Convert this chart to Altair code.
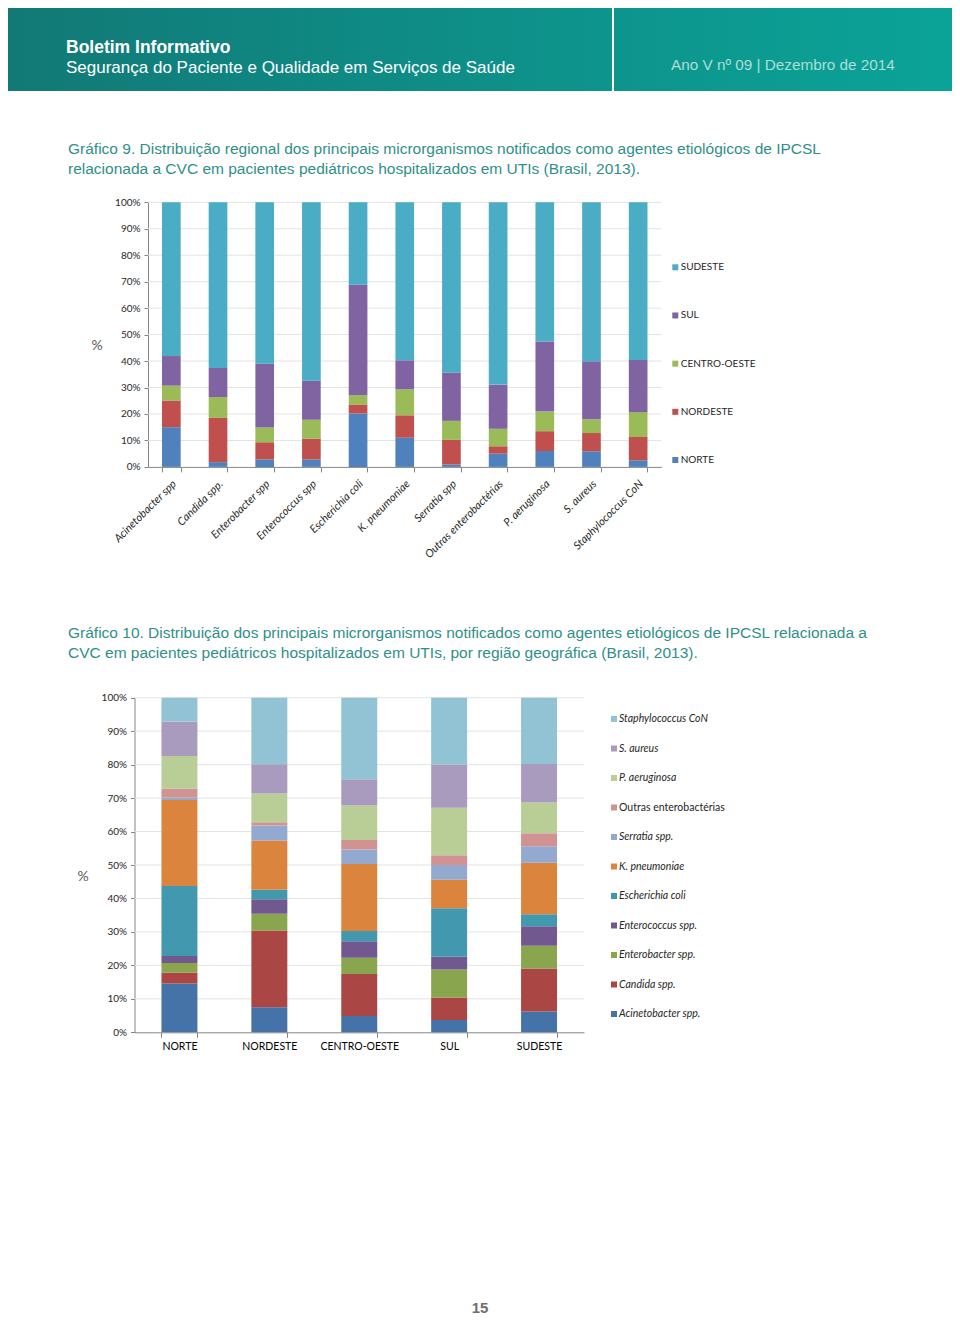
import altair as alt
import pandas as pd

# ---------------- data ----------------
regions = ["NORTE", "NORDESTE", "CENTRO-OESTE", "SUL", "SUDESTE"]
region_colors = ["#4f81bd", "#c0504d", "#9bbb59", "#8064a2", "#4bacc6"]

orgs1 = ["Acinetobacter spp", "Candida spp.", "Enterobacter spp", "Enterococcus spp",
         "Escherichia coli", "K. pneumoniae", "Serratia spp", "Outras enterobactérias",
         "P. aeruginosa", "S. aureus", "Staphylococcus CoN"]
norte1 = [15.0, 1.8, 2.8, 2.8, 20.2, 11.0, 0.9, 5.0, 6.0, 5.9, 2.5]
nordeste1 = [10.1, 16.7, 6.5, 7.8, 3.4, 8.5, 9.3, 2.8, 7.5, 6.9, 8.8]
centro1 = [5.6, 7.9, 5.6, 7.2, 3.5, 9.8, 7.2, 6.6, 7.4, 5.2, 9.4]
sul1 = [11.2, 11.0, 24.1, 14.8, 41.7, 11.0, 18.2, 16.7, 26.5, 21.9, 19.7]
sudeste1 = [58.1, 62.6, 61.0, 67.4, 31.2, 59.7, 64.4, 68.9, 52.6, 60.1, 59.6]

orgs2 = ["Acinetobacter spp.", "Candida spp.", "Enterobacter spp.", "Enterococcus spp.",
         "Escherichia coli", "K. pneumoniae", "Serratia spp.", "Outras enterobactérias",
         "P. aeruginosa", "S. aureus", "Staphylococcus CoN"]
org_colors = ["#4572a7", "#aa4643", "#89a54e", "#71588f", "#4198af", "#db843d",
              "#93a9cf", "#d19392", "#b9cd96", "#a99bbd", "#92c3d4"]
norte2 = [14.6, 3.3, 2.8, 2.1, 20.9, 25.7, 0.8, 2.6, 9.8, 10.3, 7.1]
nordeste2 = [7.5, 22.9, 5.0, 4.4, 2.8, 14.7, 4.5, 1.0, 8.6, 8.7, 19.9]
centro2 = [4.9, 12.5, 4.9, 4.9, 3.1, 20.0, 4.3, 2.9, 10.3, 7.8, 24.4]
sul2 = [3.7, 6.7, 8.4, 3.8, 14.5, 8.5, 4.4, 2.9, 14.2, 12.9, 20.0]
sudeste2 = [6.2, 12.9, 6.8, 5.8, 3.6, 15.4, 4.9, 3.9, 9.2, 11.5, 19.8]

ytick_values = [0, 0.1, 0.2, 0.3, 0.4, 0.5, 0.6, 0.7, 0.8, 0.9, 1.0]

header_title = "Boletim Informativo"
header_sub = "Segurança do Paciente e Qualidade em Serviços de Saúde"
header_right = "Ano V nº 09 | Dezembro de 2014"
caption1 = ["Gráfico 9. Distribuição regional dos principais microrganismos notificados como agentes etiológicos de IPCSL",
            "relacionada a CVC em pacientes pediátricos hospitalizados em UTIs (Brasil, 2013)."]
caption2 = ["Gráfico 10. Distribuição dos principais microrganismos notificados como agentes etiológicos de IPCSL relacionada a",
            "CVC em pacientes pediátricos hospitalizados em UTIs, por  região geográfica (Brasil, 2013)."]
page_number = "15"

# ---------------- tables ----------------
series1 = [norte1, nordeste1, centro1, sul1, sudeste1]
rows1 = []
for ri, (reg, vals) in enumerate(zip(regions, series1)):
    for org, v in zip(orgs1, vals):
        rows1.append({"org": org, "region": reg, "value": v, "rank": ri})
df1 = pd.DataFrame(rows1)

series2 = [norte2, nordeste2, centro2, sul2, sudeste2]
rows2 = []
for reg, vals in zip(regions, series2):
    for oi, (org, v) in enumerate(zip(orgs2, vals)):
        rows2.append({"org": org, "region": reg, "value": v, "rank": oi})
df2 = pd.DataFrame(rows2)

# ---------------- canvas (page px minus the 8px body margin) ----------------
W, H = 944, 1308
AX = "#868686"
LBL = "#262626"
FONT = "Lato"
HFONT = "Liberation Sans"
CAP = "#2f8f89"

one = pd.DataFrame({"d": [0]})


def text(x, y, s, size, color, weight="normal", align="left", font=HFONT, style="normal"):
    return alt.Chart(pd.DataFrame({"t": [s]})).mark_text(
        align=align, baseline="middle", fontSize=size, color=color,
        fontWeight=weight, font=font, fontStyle=style
    ).encode(x=alt.value(x), y=alt.value(y), text="t:N")


# ---------------- header ----------------
hdr = alt.Chart(one).mark_rect(
    color=alt.LinearGradient(
        gradient="linear",
        stops=[alt.GradientStop(color="#127976", offset=0),
               alt.GradientStop(color="#0e8f88", offset=0.5),
               alt.GradientStop(color="#0ba398", offset=1)],
        x1=0, x2=1, y1=0, y2=0)
).encode(x=alt.value(0), x2=alt.value(W), y=alt.value(0), y2=alt.value(83))
vline = alt.Chart(one).mark_rule(color="white", strokeWidth=2).encode(
    x=alt.value(605), y=alt.value(0), y2=alt.value(83))
t_title = text(58, 39.5, header_title, 17.5, "white", weight="bold")
t_sub = text(58, 60, header_sub, 17, "white")
t_right = text(663, 57, header_right, 15.3, "#addfd8")

cap1a = text(60, 141, caption1[0], 15.5, CAP)
cap1b = text(60, 161, caption1[1], 15.5, CAP)
cap2a = text(60, 625, caption2[0], 15.5, CAP)
cap2b = text(60, 645, caption2[1], 15.5, CAP)
pct1 = text(89, 338, "%", 14, "#595959", align="center", font=FONT)
pct2 = text(75, 869, "%", 14, "#595959", align="center", font=FONT)
pnum = text(472, 1300, page_number, 15, "#6d6e70", weight="bold", align="center")

# ---------------- chart 1 ----------------
y0_1, y1_1 = 458.9, 194.3
xl1, xr1 = 140, 653.5
xs1 = alt.Scale(domain=orgs1, range=[xl1, xr1], paddingInner=0.6, paddingOuter=0.3)
ys1 = alt.Scale(domain=[0, 1], range=[y0_1, y1_1])
yaxis1 = alt.Axis(orient="left", offset=-xl1, values=ytick_values, format=".0%",
                  labelFont=FONT, labelFontSize=10, labelColor=LBL, domainColor=AX,
                  tickColor=AX, tickSize=4, labelPadding=4, grid=False, title=None)
grid1 = alt.Chart(pd.DataFrame({"v": ytick_values[1:]})).mark_rule(
    color="#e3e3e3", strokeWidth=1
).encode(y=alt.Y("v:Q", scale=ys1, axis=yaxis1, title=None),
         x=alt.value(xl1), x2=alt.value(xr1))
bars1 = alt.Chart(df1).mark_bar().encode(
    x=alt.X("org:N", scale=xs1, sort=orgs1, title=None,
            axis=alt.Axis(orient="bottom", offset=-(H - y0_1), labelAngle=315,
                          labelAlign="right", labelBaseline="middle", labelFont=FONT,
                          labelFontStyle="italic", labelFontSize=11, labelColor=LBL,
                          tickBand="extent", domainColor=AX, tickColor=AX, tickSize=5,
                          labelPadding=10, labelOffset=3, grid=False)),
    y=alt.Y("value:Q", stack="normalize", scale=ys1, axis=yaxis1, title=None),
    color=alt.Color("region:N", scale=alt.Scale(domain=regions, range=region_colors), legend=None),
    order=alt.Order("rank:Q", sort="ascending"),
)
chart1 = alt.layer(grid1, bars1)

leg1_df = pd.DataFrame({"region": regions})
leg1_y = alt.Y("region:N", scale=alt.Scale(type="point", domain=regions[::-1],
                                           range=[259.3, 452], padding=0), axis=None)
leg1_sq = alt.Chart(leg1_df).mark_square(size=36, opacity=1).encode(
    x=alt.value(667.3), y=leg1_y,
    color=alt.Color("region:N", scale=alt.Scale(domain=regions, range=region_colors), legend=None))
leg1_tx = alt.Chart(leg1_df).mark_text(align="left", baseline="middle", font=FONT,
                                       fontSize=10, color=LBL).encode(
    x=alt.value(672.7), y=leg1_y, text="region:N")
leg1 = alt.layer(leg1_sq, leg1_tx)

# ---------------- chart 2 ----------------
y0_2, y1_2 = 1024.3, 689.7
xl2, xr2 = 126.5, 576
xs2 = alt.Scale(domain=regions, range=[xl2, xr2], paddingInner=0.6, paddingOuter=0.3)
ys2 = alt.Scale(domain=[0, 1], range=[y0_2, y1_2])
yaxis2 = alt.Axis(orient="left", offset=-xl2, values=ytick_values, format=".0%",
                  labelFont=FONT, labelFontSize=10, labelColor=LBL, domainColor=AX,
                  tickColor=AX, tickSize=4, labelPadding=4, grid=False, title=None)
grid2 = alt.Chart(pd.DataFrame({"v": ytick_values[1:]})).mark_rule(
    color="#e3e3e3", strokeWidth=1
).encode(y=alt.Y("v:Q", scale=ys2, axis=yaxis2, title=None),
         x=alt.value(xl2), x2=alt.value(xr2))
bars2 = alt.Chart(df2).mark_bar().encode(
    x=alt.X("region:N", scale=xs2, sort=regions, title=None,
            axis=alt.Axis(orient="bottom", offset=-(H - y0_2), labelAngle=0,
                          labelFont=FONT, labelFontSize=10.5, labelColor="#000000",
                          tickBand="extent", domainColor=AX, tickColor=AX, tickSize=5,
                          labelPadding=4, grid=False)),
    y=alt.Y("value:Q", stack="normalize", scale=ys2, axis=yaxis2, title=None),
    color=alt.Color("org:N", scale=alt.Scale(domain=orgs2, range=org_colors), legend=None),
    order=alt.Order("rank:Q", sort="ascending"),
)
chart2 = alt.layer(grid2, bars2)

leg2_df = pd.DataFrame({"org": orgs2})
leg2_y = alt.Y("org:N", scale=alt.Scale(type="point", domain=orgs2[::-1],
                                        range=[711, 1006], padding=0), axis=None)
leg2_sq = alt.Chart(leg2_df).mark_square(size=36, opacity=1).encode(
    x=alt.value(606), y=leg2_y,
    color=alt.Color("org:N", scale=alt.Scale(domain=orgs2, range=org_colors), legend=None))
leg2_it = alt.Chart(leg2_df).transform_filter(
    "datum.org != 'Outras enterobactérias'"
).mark_text(align="left", baseline="middle", font=FONT, fontSize=10.5, fontStyle="italic",
            color=LBL).encode(x=alt.value(611), y=leg2_y, text="org:N")
leg2_nm = alt.Chart(leg2_df).transform_filter(
    "datum.org == 'Outras enterobactérias'"
).mark_text(align="left", baseline="middle", font=FONT, fontSize=10.5,
            color=LBL).encode(x=alt.value(611), y=leg2_y, text="org:N")
leg2 = alt.layer(leg2_sq, leg2_it, leg2_nm)

chart = alt.layer(
    hdr, vline, t_title, t_sub, t_right, cap1a, cap1b, pct1, chart1, leg1,
    cap2a, cap2b, pct2, chart2, leg2, pnum
).resolve_scale(
    x="independent", y="independent", color="independent"
).properties(
    width=W, height=H, autosize="none", padding=0
).configure_view(strokeWidth=0)

chart.save("out.html", embed_options={"renderer": "svg", "actions": False})
